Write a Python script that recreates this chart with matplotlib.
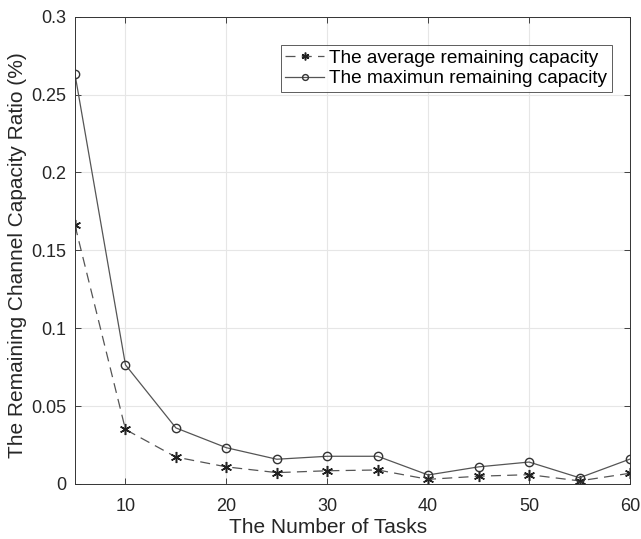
import matplotlib
matplotlib.use("Agg")
import matplotlib.pyplot as plt

tasks = [5, 10, 15, 20, 25, 30, 35, 40, 45, 50, 55, 60]
avg_cap = [0.166, 0.035, 0.0173, 0.011, 0.0073, 0.0085, 0.009, 0.003, 0.005, 0.006, 0.002, 0.0069]
max_cap = [0.263, 0.0765, 0.036, 0.0233, 0.0159, 0.0178, 0.0178, 0.0058, 0.011, 0.0141, 0.004, 0.016]
xticks = [10, 20, 30, 40, 50, 60]
yticks = [0, 0.05, 0.1, 0.15, 0.2, 0.25, 0.3]
ytick_labels = ["0", "0.05", "0.1", "0.15", "0.2", "0.25", "0.3"]

plt.rcParams['font.family'] = ['Liberation Sans', 'DejaVu Sans']

fig = plt.figure(figsize=(6.41, 5.39), dpi=100)
ax = fig.add_axes([75/641, 1-484/539, (630-75)/641, (484-16.7)/539])

ax.plot(tasks, avg_cap, linestyle=(0, (8, 5)), color='#555555', linewidth=0.9,
        marker=(6, 2, 0), markersize=8, markeredgewidth=1.1,
        markerfacecolor='#222222', markeredgecolor='#222222',
        label='The average remaining capacity')
ax.plot(tasks, max_cap, linestyle='-', color='#555555', linewidth=0.9,
        marker='o', markersize=6, markerfacecolor='none', markeredgecolor='#333333',
        label='The maximun remaining capacity')

ax.set_xlim(5, 60)
ax.set_ylim(0, 0.3)
ax.set_xticks(xticks)
ax.set_yticks(yticks)
ax.set_yticklabels(ytick_labels)
ax.grid(True, color='#e6e6e6', linewidth=0.8)
ax.set_axisbelow(True)
ax.tick_params(direction='in', labelsize=13, colors='#262626', length=4, width=0.6,
               top=True, right=True)
ax.tick_params(axis='x', pad=10)
ax.tick_params(axis='y', pad=6)
for s in ax.spines.values():
    s.set_color('#333333')
    s.set_linewidth(0.7)

ax.set_xlabel('The Number of Tasks', fontsize=15, color='#262626')
ax.xaxis.set_label_coords((328-75)/555, -(518-484)/467.3)
ax.set_ylabel('The Remaining Channel Capacity Ratio (%)', fontsize=15, color='#262626')
ax.yaxis.set_label_coords(-(75-27)/555, 0.49)

leg = ax.legend(loc='upper right', bbox_to_anchor=(612/641, 1-45/539), bbox_transform=fig.transFigure,
                fontsize=13.7, frameon=True, fancybox=False, edgecolor='#333333',
                handlelength=2.0, handletextpad=0.3, borderpad=0.25, labelspacing=0.15,
                borderaxespad=0, markerscale=0.7)
leg.get_frame().set_linewidth(0.7)

fig.savefig('out.png', dpi=100)
